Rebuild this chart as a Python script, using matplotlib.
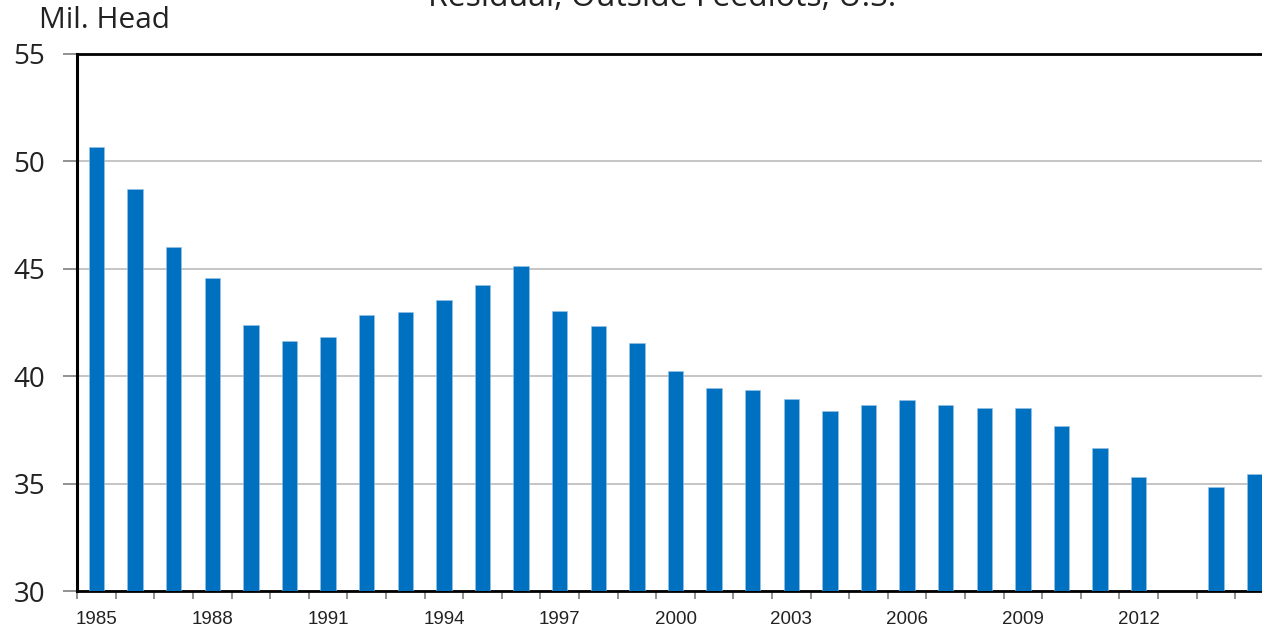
import matplotlib
matplotlib.use("Agg")
import matplotlib.pyplot as plt
import numpy as np

years = list(range(1985, 2016))
values = [50.67, 48.72, 46.02, 44.55, 42.38, 41.64, 41.81, 42.86, 43.0, 43.53,
          44.24, 45.15, 43.03, 42.33, 41.56, 40.26, 39.47, 39.36, 38.95, 38.39,
          38.64, 38.87, 38.64, 38.53, 38.5, 37.68, 36.65, 35.33, np.nan, 34.83, 35.45]
label_years = [1985, 1988, 1991, 1994, 1997, 2000, 2003, 2006, 2009, 2012]
yticks = [30, 35, 40, 45, 50, 55]
title = "Residual, Outside Feedlots, U.S."
ylabel = "Mil. Head"

W, H = 1262, 629
fig = plt.figure(figsize=(W / 100, H / 100), dpi=100)
ax_left, ax_right = 77.2, 77.2 + 31 * 38.6
ax_top, ax_bottom = 54, 591
ax = fig.add_axes([ax_left / W, 1 - ax_bottom / H, (ax_right - ax_left) / W, (ax_bottom - ax_top) / H])

x = np.arange(len(years))
vals = np.array(values, dtype=float)
mask = ~np.isnan(vals)
ax.bar(x[mask], vals[mask] - 30, bottom=30, width=0.4, color="#0070C0",
       edgecolor="#9DC3E6", linewidth=0.4, zorder=3)

ax.set_xlim(-0.5, len(years) - 0.5)
ax.set_ylim(30, 55)
ax.set_yticks(yticks)
ax.yaxis.grid(True, color="#C0C0C0", linewidth=1.3, zorder=0)
ax.set_axisbelow(True)

# major ticks at category boundaries, labels on minor ticks at centres
ax.set_xticks(np.arange(-0.5, len(years), 1.0))
ax.set_xticklabels([])
lab_pos = [years.index(y) for y in label_years]
ax.set_xticks(lab_pos, minor=True)
ax.set_xticklabels([str(y) for y in label_years], minor=True,
                   fontfamily="Liberation Sans", fontsize=13.5, color="#222222")
ax.tick_params(axis="x", which="major", length=6, width=1.2, color="#7F7F7F", direction="out")
ax.tick_params(axis="x", which="minor", length=0, pad=14.5)
ax.tick_params(axis="y", which="major", length=10, width=1.2, color="#7F7F7F", direction="out", pad=13)
for lab in ax.get_yticklabels():
    lab.set_fontfamily("Open Sans")
    lab.set_fontsize(20)
    lab.set_color("#222222")

for s in ["left", "bottom", "top", "right"]:
    ax.spines[s].set_color("black")
ax.spines["left"].set_linewidth(2.2)
ax.spines["bottom"].set_linewidth(2.0)
ax.spines["top"].set_linewidth(2.0)
ax.spines["right"].set_linewidth(2.0)

fig.text(39 / W, 1 - 28 / H, ylabel, fontfamily="Open Sans", fontsize=21.5,
         ha="left", va="baseline", color="#222222")
fig.text(662 / W, 1 - 6 / H, title, fontfamily="Open Sans", fontsize=23,
         ha="center", va="baseline", color="#222222")

fig.savefig("out.png", dpi=100)
